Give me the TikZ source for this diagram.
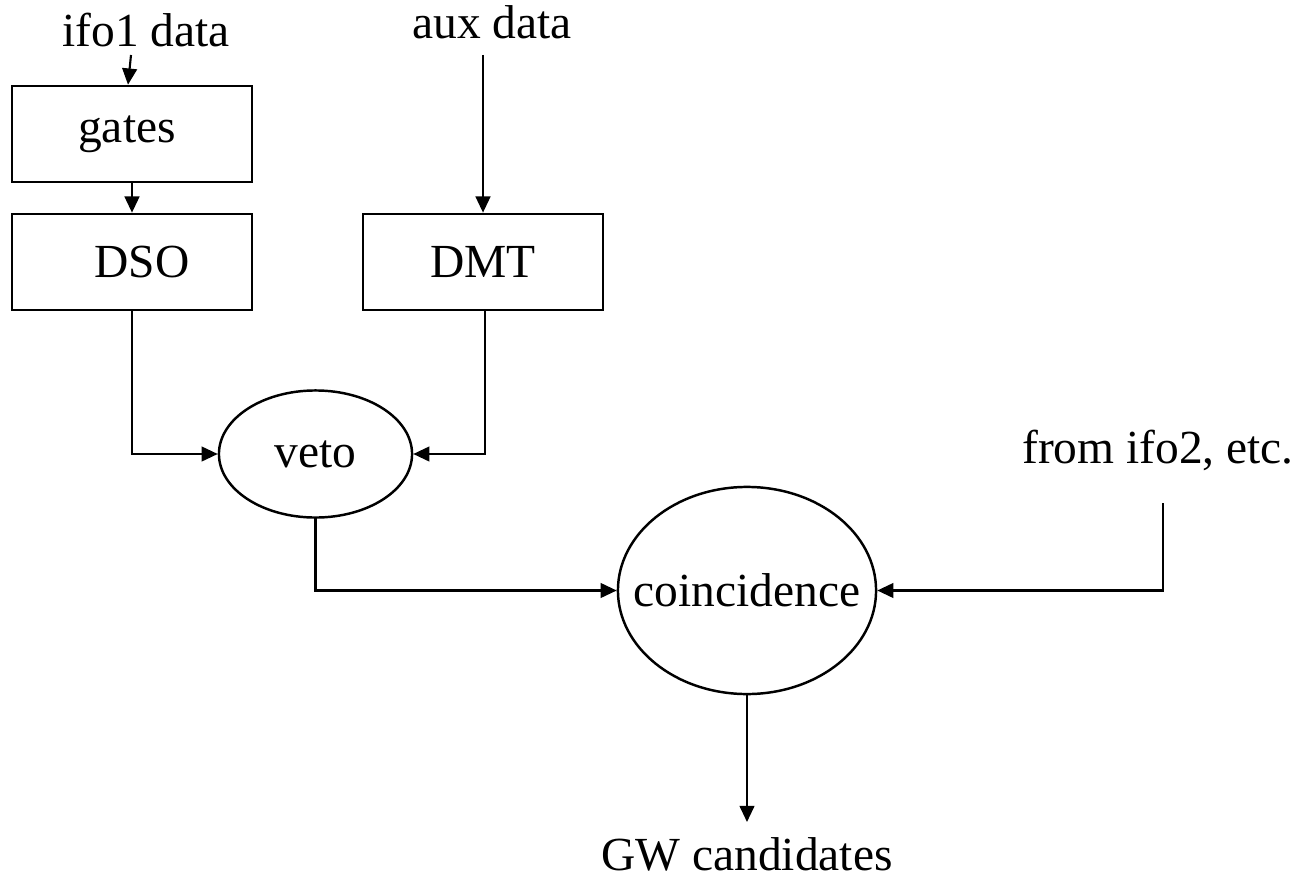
\documentclass[tikz,border=0pt]{standalone}
\usepackage{fontspec}
\setmainfont{Liberation Serif}
\usetikzlibrary{arrows.meta,shapes.geometric}

\tikzset{
  procbox/.style={draw, line width=0.75pt, inner sep=0pt,
    minimum width=2.4cm, minimum height=0.96cm},
  stage/.style={draw, ellipse, line width=0.7pt, inner sep=0pt},
  flow/.style={line width=0.6pt, -{Triangle[length=4.6pt,width=4.2pt]}},
  wire/.style={line width=0.6pt},
}

\begin{document}
\begin{tikzpicture}[x=0.01cm, y=-0.01cm, font=\fontsize{13.5}{16}\selectfont]
  \useasboundingbox (0,0) rectangle (1300,882);

  % inputs
  \node[anchor=base] (ifotxt) at (146,47) {ifo1 data};
  \node[anchor=base] (auxtxt) at (492,39) {aux data};
  \node[anchor=base] (ifotwo) at (1158,463) {from ifo2, etc.};
  \coordinate (ifoin) at (131,55);
  \coordinate (auxin) at (483,55);
  \coordinate (twoin) at (1163,503);

  % boxes
  \node[procbox] (gates) at (132,134) {gates\hspace*{0.1cm}};
  \node[procbox] (DSO) at (132,262) {\hspace*{0.2cm}DSO};
  \node[procbox] (DMT) at (483,262) {DMT};

  % ellipses
  \node[stage, minimum width=1.93cm, minimum height=1.27cm] (veto) at (315.5,454) {veto};
  \node[stage, inner xsep=-0.23cm, minimum width=2.58cm, minimum height=2.07cm] (coinc) at (747,590.5) {coincidence};

  % output
  \node[anchor=north, inner sep=0.15cm] (gw) at (747,822) {GW candidates};

  \draw[flow] (ifoin) -- ([xshift=-0.04cm]gates.north);
  \draw[flow] (gates) -- (DSO);
  \draw[flow] (auxin) -- (DMT.north);
  \draw[flow] (DSO.south) |- (veto.west);
  \draw[flow] ([xshift=0.02cm]DMT.south) |- (veto.east);
  \draw[flow] (veto.south) |- (coinc.west);
  \draw[flow] (twoin) |- (coinc.east);
  \draw[flow] (coinc.south) -- (gw.north);
\end{tikzpicture}
\end{document}
